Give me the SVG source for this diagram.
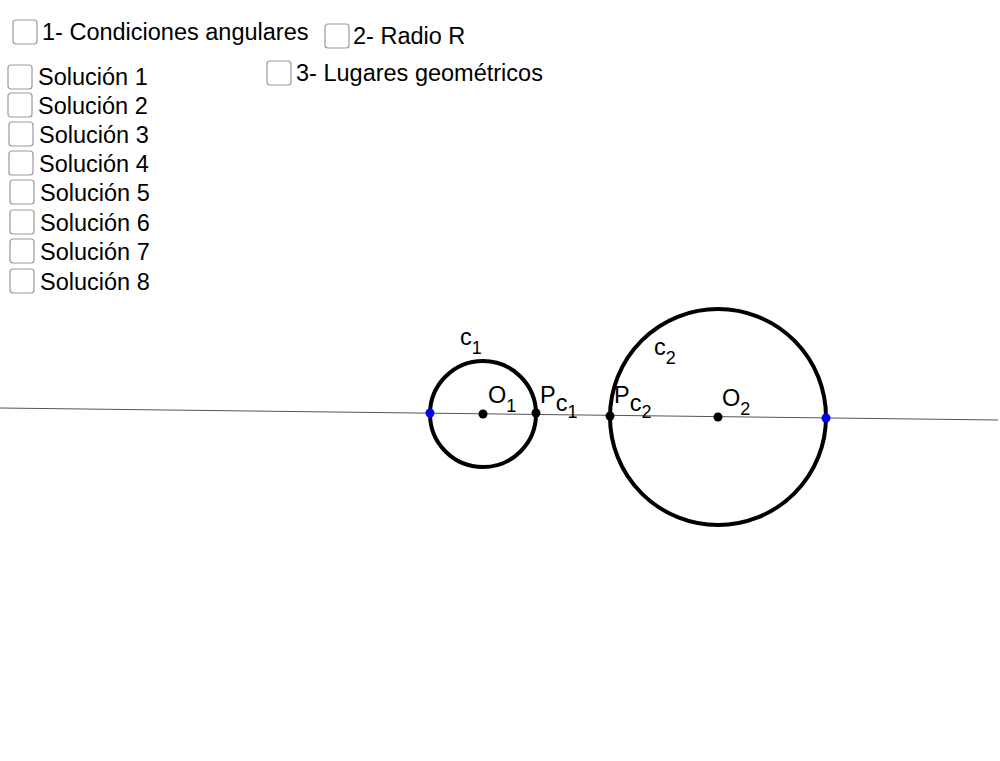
<svg xmlns="http://www.w3.org/2000/svg" width="1000" height="761" viewBox="0 0 1000 761">
<style>
.cb{fill:#fff;stroke:#999;stroke-width:1.2}
text{font-family:"Liberation Sans",Arial,sans-serif;font-size:23.5px;fill:#000}
.s{font-size:18px}
.c{fill:none;stroke:#000;stroke-width:4}
.pt{fill:#000}.bp{fill:#00f}
</style>
<rect width="1000" height="761" fill="#fff"/>
<g id="controls">
<rect class="cb" x="13" y="20" width="24" height="24" rx="3"/><text x="42" y="40">1- Condiciones angulares</text>
<rect class="cb" x="325" y="24" width="24" height="24" rx="3"/><text x="353" y="44">2- Radio R</text>
<rect class="cb" x="267" y="61" width="24" height="24" rx="3"/><text x="296" y="81">3- Lugares geométricos</text>
<rect class="cb" x="8" y="65" width="24" height="24" rx="3"/><text x="38" y="85">Solución 1</text>
<rect class="cb" x="8" y="93" width="24" height="24" rx="3"/><text x="38" y="114">Solución 2</text>
<rect class="cb" x="9" y="122" width="24" height="24" rx="3"/><text x="39" y="143">Solución 3</text>
<rect class="cb" x="9" y="151" width="24" height="24" rx="3"/><text x="39" y="172">Solución 4</text>
<rect class="cb" x="10" y="180" width="24" height="24" rx="3"/><text x="40" y="201">Solución 5</text>
<rect class="cb" x="10" y="210" width="24" height="24" rx="3"/><text x="40" y="231">Solución 6</text>
<rect class="cb" x="10" y="239" width="24" height="24" rx="3"/><text x="40" y="260">Solución 7</text>
<rect class="cb" x="10" y="269" width="24" height="24" rx="3"/><text x="40" y="290">Solución 8</text>
</g>
<g id="connectors">
<line x1="0" y1="408" x2="998" y2="420" stroke="#555" stroke-width="1"/>
</g>
<g id="c1"><circle class="c" cx="483" cy="414" r="53"/><text x="460" y="345">c<tspan class="s" dy="9">1</tspan></text></g>
<g id="c2"><circle class="c" cx="718" cy="417" r="108"/><text x="654" y="355">c<tspan class="s" dy="9">2</tspan></text></g>
<g id="O1"><circle class="pt" cx="483" cy="414" r="4.5"/><text x="488" y="403">O<tspan class="s" dy="9">1</tspan></text></g>
<g id="Pc1"><circle class="pt" cx="536" cy="413" r="4.5"/><text x="540" y="403">P<tspan dy="8">c</tspan><tspan class="s" dy="7">1</tspan></text></g>
<g id="Pc2"><circle class="pt" cx="610" cy="416" r="4.5"/><text x="614" y="403">P<tspan dy="8">c</tspan><tspan class="s" dy="7">2</tspan></text></g>
<g id="O2"><circle class="pt" cx="718" cy="417" r="4.5"/><text x="722" y="406">O<tspan class="s" dy="9">2</tspan></text></g>
<g id="A"><circle class="bp" cx="430" cy="413" r="4.5"/></g>
<g id="B"><circle class="bp" cx="826" cy="418" r="4.5"/></g>
</svg>
